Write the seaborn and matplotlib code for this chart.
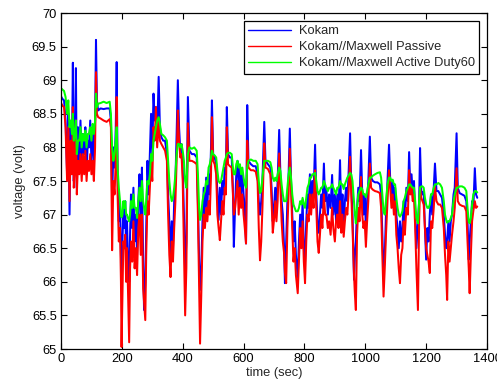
import numpy as np
import pandas as pd
import matplotlib
matplotlib.use("Agg")
import matplotlib.pyplot as plt
import seaborn as sns

time_s = [
    0, 5, 10, 15, 20, 24, 28, 32, 36, 39,
    42, 46, 49, 52, 56, 60, 64, 68, 72, 76,
    80, 84, 88, 92, 96, 100, 104, 108, 112, 115,
    118, 122, 130, 140, 150, 160, 164, 168, 172, 176,
    180, 183, 186, 190, 194, 197, 199, 202, 205, 208,
    211, 214, 217, 220, 224, 227, 230, 234, 238, 242,
    246, 250, 254, 258, 262, 266, 270, 273, 277, 280,
    284, 288, 292, 296, 300, 304, 308, 312, 316, 321,
    325, 330, 336, 342, 348, 352, 356, 360, 364, 368,
    372, 376, 380, 384, 388, 392, 396, 400, 404, 408,
    412, 417, 422, 430, 438, 446, 450, 454, 457, 461,
    465, 469, 473, 477, 481, 485, 489, 493, 496, 500,
    505, 510, 514, 518, 522, 526, 530, 534, 538, 542,
    545, 549, 555, 561, 565, 568, 572, 576, 580, 584,
    588, 592, 596, 600, 604, 608, 612, 616, 624, 632,
    640, 646, 650, 654, 658, 662, 668, 672, 680, 688,
    692, 696, 700, 704, 708, 712, 717, 721, 725, 729,
    733, 736, 740, 744, 748, 752, 756, 760, 764, 768,
    772, 778, 782, 786, 790, 794, 798, 802, 806, 810,
    814, 818, 822, 826, 830, 835, 839, 843, 847, 851,
    855, 859, 864, 868, 872, 877, 881, 886, 891, 895,
    900, 904, 908, 912, 917, 921, 925, 929, 933, 937,
    941, 945, 950, 954, 958, 963, 966, 969, 973, 977,
    981, 986, 990, 994, 998, 1002, 1006, 1010, 1015, 1019,
    1025, 1032, 1040, 1048, 1052, 1056, 1060, 1064, 1068, 1073,
    1078, 1082, 1086, 1090, 1094, 1098, 1102, 1106, 1110, 1114,
    1118, 1122, 1126, 1130, 1135, 1140, 1144, 1148, 1152, 1156,
    1160, 1164, 1168, 1173, 1177, 1180, 1184, 1188, 1192, 1196,
    1200, 1204, 1208, 1212, 1216, 1220, 1225, 1229, 1234, 1240,
    1246, 1252, 1258, 1262, 1266, 1269, 1273, 1277, 1281, 1285,
    1290, 1294, 1300, 1304, 1310, 1318, 1326, 1332, 1336, 1340,
    1343, 1347, 1351, 1355, 1360, 1364, 1368,
]

kokam = [
    68.76, 68.72, 68.70, 68.40, 67.60, 68.50, 67.00, 68.30, 67.90, 69.26,
    67.50, 68.10, 69.18, 67.40, 68.30, 67.80, 68.40, 67.70, 68.20, 67.90,
    68.30, 67.60, 68.10, 68.00, 68.40, 67.80, 68.30, 67.80, 68.40, 69.60,
    68.70, 68.55, 68.58, 68.57, 68.58, 68.58, 68.40, 67.20, 68.00, 67.70,
    68.30, 69.27, 67.60, 66.90, 67.20, 66.40, 65.98, 66.60, 67.10, 66.80,
    67.20, 66.40, 66.90, 66.30, 66.00, 66.70, 67.30, 66.80, 67.40, 66.60,
    67.00, 66.40, 67.20, 67.60, 66.80, 67.70, 66.30, 65.58, 66.00, 66.80,
    67.80, 67.30, 67.90, 68.50, 67.90, 68.80, 68.40, 68.60, 68.20, 69.05,
    68.30, 68.15, 68.10, 68.10, 67.90, 67.30, 66.90, 66.37, 66.90, 66.50,
    67.20, 67.50, 68.20, 69.00, 68.30, 67.95, 68.05, 67.70, 67.00, 66.13,
    66.60, 68.75, 67.95, 67.90, 67.90, 67.85, 67.20, 66.30, 65.88, 66.20,
    66.90, 67.40, 67.00, 67.55, 67.10, 67.60, 67.30, 68.00, 68.70, 67.90,
    67.85, 67.75, 67.30, 66.92, 67.40, 67.00, 67.50, 67.30, 67.70, 67.60,
    68.60, 67.90, 67.85, 67.85, 67.40, 66.52, 67.10, 67.60, 67.80, 67.40,
    67.70, 67.30, 67.60, 67.30, 67.10, 66.57, 68.63, 67.80, 67.75, 67.72,
    67.72, 67.60, 67.20, 67.00, 67.20, 67.50, 68.38, 67.80, 67.75, 67.70,
    67.40, 66.90, 67.10, 67.40, 67.10, 67.50, 68.26, 67.60, 67.20, 67.00,
    66.52, 65.98, 66.60, 67.20, 67.60, 68.28, 67.50, 67.00, 66.60, 66.90,
    66.40, 66.07, 66.60, 67.00, 66.70, 67.20, 66.50, 66.30, 66.90, 67.30,
    67.10, 67.60, 67.20, 67.50, 67.30, 68.04, 67.30, 66.90, 66.73, 67.00,
    67.30, 67.10, 67.76, 67.20, 67.40, 67.00, 67.30, 67.10, 67.59, 67.00,
    67.30, 66.90, 67.30, 67.00, 67.81, 67.00, 67.30, 66.82, 67.20, 67.40,
    67.20, 67.60, 68.21, 67.40, 67.00, 66.03, 66.40, 66.60, 67.10, 67.40,
    67.20, 67.96, 67.30, 67.00, 67.30, 66.80, 67.20, 67.50, 68.16, 67.55,
    67.50, 67.48, 67.48, 67.45, 67.30, 66.70, 66.13, 66.40, 67.00, 67.50,
    68.04, 67.50, 67.30, 67.50, 67.20, 67.40, 67.00, 66.80, 66.50, 66.90,
    66.60, 66.80, 67.20, 66.90, 67.40, 67.20, 67.93, 67.40, 67.60, 67.30,
    67.50, 67.00, 66.50, 66.90, 67.20, 67.99, 67.35, 67.30, 67.35, 66.80,
    66.33, 66.80, 66.60, 67.00, 67.30, 67.00, 67.40, 67.76, 67.35, 67.35,
    67.30, 67.25, 67.00, 66.70, 66.50, 66.60, 66.90, 66.60, 66.90, 67.00,
    67.30, 67.40, 68.21, 67.40, 67.32, 67.30, 67.28, 67.20, 66.90, 66.33,
    66.60, 66.90, 67.20, 67.10, 67.69, 67.30, 67.25,
]

kokam_maxwell_passive = [
    68.66, 68.62, 68.60, 68.30, 67.50, 68.30, 67.20, 68.10, 67.60, 68.60,
    67.40, 67.70, 68.40, 67.30, 67.80, 67.60, 67.90, 67.50, 67.90, 67.60,
    67.95, 67.50, 67.80, 67.65, 67.90, 67.60, 67.80, 67.50, 68.00, 69.12,
    68.50, 68.45, 68.43, 68.40, 68.38, 68.42, 68.30, 66.47, 67.50, 67.30,
    67.80, 68.75, 67.30, 66.60, 66.80, 66.00, 65.03, 65.80, 66.60, 66.50,
    66.70, 66.00, 66.50, 65.90, 65.10, 66.20, 66.60, 66.30, 66.90, 66.20,
    66.50, 66.10, 66.80, 67.00, 66.40, 67.00, 65.90, 65.70, 65.43, 66.40,
    67.20, 67.00, 67.40, 67.80, 67.50, 68.30, 68.10, 68.60, 68.00, 68.40,
    68.10, 68.05, 68.00, 67.95, 67.80, 67.00, 66.40, 66.07, 66.60, 66.30,
    66.80, 67.20, 67.80, 68.55, 68.10, 67.85, 67.90, 67.50, 66.50, 65.50,
    66.20, 68.36, 67.80, 67.80, 67.78, 67.75, 67.00, 65.90, 65.08, 65.80,
    66.60, 67.00, 66.80, 67.10, 66.90, 67.20, 67.00, 67.60, 68.45, 67.80,
    67.75, 67.60, 67.00, 66.80, 66.62, 66.90, 67.20, 67.00, 67.40, 67.30,
    68.30, 67.75, 67.72, 67.70, 67.30, 67.00, 67.10, 67.30, 67.50, 67.00,
    67.40, 67.10, 67.30, 67.00, 66.80, 66.57, 68.10, 67.70, 67.66, 67.66,
    67.64, 67.50, 66.80, 66.32, 66.60, 67.10, 68.06, 67.70, 67.68, 67.60,
    67.20, 66.73, 66.92, 67.20, 66.90, 67.20, 67.91, 67.40, 66.90, 66.60,
    66.43, 66.13, 65.98, 66.80, 67.30, 67.98, 67.40, 66.80, 66.30, 66.50,
    66.10, 65.83, 66.30, 66.80, 66.50, 66.90, 66.30, 65.98, 66.60, 67.00,
    66.90, 67.30, 67.00, 67.30, 67.10, 67.66, 67.10, 66.60, 66.43, 66.70,
    67.00, 66.80, 67.30, 67.00, 67.00, 66.80, 66.90, 66.70, 67.10, 66.80,
    66.60, 66.90, 67.00, 66.80, 67.20, 66.73, 67.00, 66.67, 66.90, 67.10,
    67.00, 67.30, 67.86, 67.30, 66.80, 66.10, 65.80, 65.58, 66.70, 67.10,
    66.90, 67.56, 67.00, 66.80, 66.90, 66.52, 66.90, 67.20, 67.76, 67.40,
    67.37, 67.35, 67.34, 67.32, 67.10, 66.40, 65.78, 66.20, 66.70, 67.20,
    67.66, 67.40, 67.10, 67.30, 67.00, 67.20, 66.70, 66.50, 66.20, 65.98,
    66.40, 66.50, 66.90, 66.70, 67.10, 67.00, 67.66, 67.30, 67.40, 67.20,
    67.30, 66.80, 66.20, 65.58, 66.90, 67.41, 67.25, 67.20, 67.15, 66.80,
    66.50, 66.40, 66.30, 66.13, 66.90, 66.80, 67.10, 67.41, 67.20, 67.15,
    67.15, 67.10, 66.80, 66.40, 66.10, 65.73, 66.60, 66.30, 66.50, 66.70,
    66.90, 67.10, 67.69, 67.20, 67.15, 67.13, 67.12, 67.05, 66.60, 66.20,
    65.83, 66.40, 66.90, 67.05, 67.20, 67.10, 67.12,
]

kokam_maxwell_active = [
    68.88, 68.86, 68.84, 68.75, 68.50, 68.70, 68.30, 68.40, 68.20, 68.50,
    68.10, 68.20, 68.40, 67.90, 68.10, 68.10, 68.30, 68.00, 68.20, 68.10,
    68.25, 68.00, 68.20, 68.20, 68.30, 68.10, 68.35, 68.20, 68.40, 68.80,
    68.60, 68.65, 68.66, 68.68, 68.66, 68.68, 68.50, 68.00, 67.80, 67.90,
    68.10, 68.30, 67.70, 67.40, 67.20, 67.00, 66.96, 67.00, 67.20, 67.10,
    67.20, 67.00, 67.00, 66.95, 66.90, 67.00, 67.20, 67.10, 67.30, 67.10,
    67.10, 66.95, 67.20, 67.40, 67.20, 67.50, 67.20, 67.10, 67.00, 67.20,
    67.50, 67.45, 67.60, 67.90, 67.80, 68.10, 68.20, 68.30, 68.40, 68.45,
    68.35, 68.20, 68.18, 68.15, 68.10, 67.80, 67.50, 67.30, 67.20, 67.25,
    67.40, 67.60, 67.90, 68.05, 68.05, 68.00, 68.05, 67.95, 67.80, 67.50,
    67.40, 67.90, 68.00, 67.98, 68.00, 67.95, 67.60, 67.10, 66.92, 67.00,
    67.20, 67.30, 67.35, 67.50, 67.45, 67.70, 67.75, 67.85, 67.95, 67.90,
    67.88, 67.85, 67.65, 67.50, 67.47, 67.50, 67.60, 67.70, 67.80, 67.85,
    67.90, 67.92, 67.92, 67.90, 67.70, 67.60, 67.60, 67.75, 67.80, 67.70,
    67.75, 67.60, 67.70, 67.55, 67.45, 67.40, 67.70, 67.80, 67.82, 67.80,
    67.80, 67.75, 67.50, 67.32, 67.35, 67.55, 67.80, 67.80, 67.80, 67.78,
    67.70, 67.55, 67.50, 67.55, 67.50, 67.60, 67.70, 67.65, 67.45, 67.30,
    67.20, 67.20, 67.20, 67.40, 67.60, 67.70, 67.55, 67.30, 67.15, 67.10,
    67.05, 67.05, 67.10, 67.20, 67.15, 67.25, 67.15, 67.10, 67.25, 67.40,
    67.45, 67.55, 67.55, 67.60, 67.60, 67.62, 67.50, 67.35, 67.30, 67.35,
    67.40, 67.40, 67.50, 67.45, 67.40, 67.35, 67.40, 67.40, 67.45, 67.40,
    67.35, 67.30, 67.40, 67.40, 67.50, 67.45, 67.45, 67.38, 67.45, 67.50,
    67.55, 67.58, 67.62, 67.60, 67.50, 67.20, 67.00, 66.87, 67.10, 67.30,
    67.35, 67.40, 67.38, 67.30, 67.30, 67.26, 67.35, 67.45, 67.55, 67.55,
    67.58, 67.60, 67.62, 67.63, 67.55, 67.30, 67.05, 67.00, 67.20, 67.45,
    67.55, 67.55, 67.50, 67.52, 67.45, 67.45, 67.25, 67.10, 67.00, 66.97,
    67.00, 67.05, 67.20, 67.25, 67.35, 67.40, 67.45, 67.45, 67.42, 67.40,
    67.40, 67.20, 66.95, 66.87, 67.20, 67.40, 67.42, 67.42, 67.40, 67.25,
    67.15, 67.10, 67.10, 67.15, 67.30, 67.30, 67.40, 67.45, 67.45, 67.47,
    67.45, 67.40, 67.20, 67.00, 66.92, 66.88, 66.90, 66.90, 66.95, 67.00,
    67.20, 67.30, 67.40, 67.40, 67.42, 67.42, 67.40, 67.35, 67.10, 66.90,
    66.87, 66.95, 67.15, 67.30, 67.35, 67.35, 67.33,
]

series_names = ["Kokam", "Kokam//Maxwell Passive", "Kokam//Maxwell Active Duty60"]
series_colors = ["#0000ff", "#ff0000", "#00ff00"]
x_ticks = [0, 200, 400, 600, 800, 1000, 1200, 1400]
y_ticks = [65, 65.5, 66, 66.5, 67, 67.5, 68, 68.5, 69, 69.5, 70]

assert len(time_s) == len(kokam) == len(kokam_maxwell_passive) == len(kokam_maxwell_active)

frames = []
for name, vals in zip(series_names, [kokam, kokam_maxwell_passive, kokam_maxwell_active]):
    frames.append(pd.DataFrame({"time": time_s, "voltage": vals, "series": name}))
df = pd.concat(frames, ignore_index=True)

sns.set_style("ticks")
plt.rcParams["font.family"] = ["Liberation Sans", "DejaVu Sans"]
FS = 9.3

fig = plt.figure(figsize=(4.97, 3.82), dpi=100)
ax = fig.add_axes([61 / 497, 1 - 349 / 382, (487 - 61) / 497, (349 - 13) / 382])

sns.lineplot(data=df, x="time", y="voltage", hue="series", hue_order=series_names,
             palette=dict(zip(series_names, series_colors)), estimator=None,
             sort=False, linewidth=1.45, ax=ax)

ax.set_xlim(0, 1400)
ax.set_ylim(65, 70)
ax.set_xticks(x_ticks)
ax.set_xticklabels([str(v) for v in x_ticks])
ax.set_yticks(y_ticks)
ax.set_yticklabels([("%g" % v) for v in y_ticks])
ax.tick_params(direction="in", length=4, width=0.8, top=True, right=True,
               labelsize=FS, colors="black", pad=3)
for s in ax.spines.values():
    s.set_visible(True)
    s.set_color("black")
    s.set_linewidth(0.9)

ax.set_xlabel("time (sec)", fontsize=FS, labelpad=1)
ax.set_ylabel("voltage (volt)", fontsize=FS, labelpad=4)

handles, labels = ax.get_legend_handles_labels()
leg = ax.legend(handles, labels, loc="upper right", fontsize=FS, frameon=True,
                fancybox=False, framealpha=1, edgecolor="black",
                handlelength=3.3, borderaxespad=0.6, borderpad=0.35,
                labelspacing=0.3, handletextpad=0.6)
leg.get_frame().set_linewidth(0.9)
for line in leg.get_lines():
    line.set_linewidth(1.0)

fig.savefig("out.png", dpi=100)
